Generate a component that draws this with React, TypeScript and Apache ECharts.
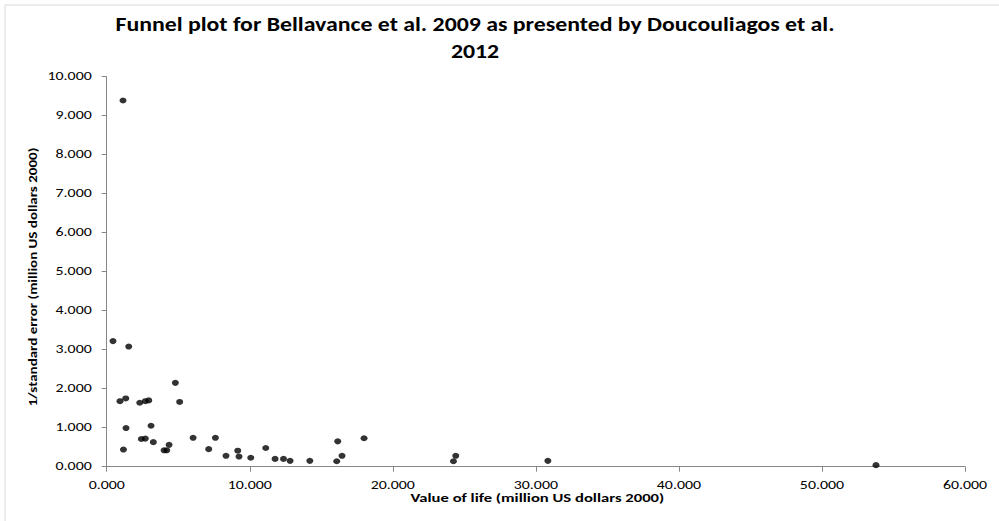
import React, { useEffect, useRef } from "react";
import * as echarts from "echarts";

const titleLines = ["Funnel plot for Bellavance et al. 2009 as presented by Doucouliagos et al.", "2012"];
const xAxisTitle = "Value of life (million US dollars 2000)";
const yAxisTitle = "1/standard error (million US dollars 2000)";

const xTicks = [0, 10, 20, 30, 40, 50, 60];
const yTicks = [0, 1, 2, 3, 4, 5, 6, 7, 8, 9, 10];

const valueOfLife = [
  0.44, 1.54, 4.8, 0.93, 1.33, 2.31, 2.7, 2.94, 5.1, 1.35, 1.17, 3.1, 2.42, 2.7, 3.26, 4.01, 4.2, 4.36,
  6.04, 7.13, 7.6, 8.34, 9.16, 9.25, 10.07, 11.12, 11.77, 12.36, 12.82, 14.2, 16.08, 16.15, 16.45, 17.99,
  24.24, 24.4, 30.84, 53.78, 1.14,
];
const inverseSE = [
  3.22, 3.08, 2.15, 1.68, 1.75, 1.64, 1.68, 1.7, 1.66, 0.99, 0.44, 1.05, 0.71, 0.72, 0.63, 0.42, 0.42, 0.56,
  0.74, 0.45, 0.74, 0.28, 0.41, 0.26, 0.23, 0.48, 0.2, 0.2, 0.15, 0.15, 0.14, 0.65, 0.28, 0.73,
  0.14, 0.28, 0.15, 0.04, 9.39,
];

const FAMILY = "Carlito, Lato, 'Liberation Sans', sans-serif";
const font = (size: number, bold: boolean) => `${bold ? "bold " : ""}${size}px ${FAMILY}`;

export default function App() {
  const ref = useRef<HTMLDivElement>(null);
  useEffect(() => {
    if (!ref.current) return;
    const chart = echarts.init(ref.current, null, { renderer: "svg" });
    const points = valueOfLife.map((x, i) => [x, inverseSE[i]]);
    const axisColor = "#868686";
    chart.setOption({
      animation: false,
      backgroundColor: "#ffffff",
      grid: { left: 106.7, right: 34, top: 76.7, bottom: 54.3, containLabel: false },
      xAxis: {
        type: "value",
        min: 0,
        max: 60,
        interval: 10,
        axisLine: { show: true, lineStyle: { color: axisColor, width: 1 } },
        axisTick: { show: true, inside: false, length: 5, lineStyle: { color: axisColor } },
        splitLine: { show: false },
        axisLabel: { show: false },
      },
      yAxis: {
        type: "value",
        min: 0,
        max: 10,
        interval: 1,
        axisLine: { show: true, lineStyle: { color: axisColor, width: 1 } },
        axisTick: { show: true, inside: false, length: 5, lineStyle: { color: axisColor } },
        splitLine: { show: false },
        axisLabel: { show: false },
      },
      series: [
        {
          type: "scatter",
          data: points,
          symbol: "circle",
          symbolSize: [7, 6],
          itemStyle: { color: "#000000" },
        },
      ],
    });

    const graphics: any[] = [
      {
        type: "rect",
        shape: { x: 5, y: 5, width: 1000, height: 520 },
        style: { fill: "none", stroke: "#d9d9d9", lineWidth: 1 },
        silent: true,
        z: -1,
      },
    ];
    const titleScale = 1.19;
    titleLines.forEach((line, i) => {
      graphics.push({
        type: "text",
        x: 475,
        y: 24 + i * 27,
        scaleX: titleScale,
        style: {
          text: line,
          font: font(20, true),
          fill: "#000000",
          textAlign: "center",
          textVerticalAlign: "middle",
        },
      });
    });
    const labelScale = 1.38;
    xTicks.forEach((v) => {
      const px = chart.convertToPixel({ xAxisIndex: 0 }, v) as number;
      graphics.push({
        type: "text",
        x: px,
        y: 485.3,
        scaleX: labelScale,
        style: {
          text: v.toFixed(3),
          font: font(11.5, false),
          fill: "#000000",
          textAlign: "center",
          textVerticalAlign: "middle",
        },
      });
    });
    yTicks.forEach((v) => {
      const py = chart.convertToPixel({ yAxisIndex: 0 }, v) as number;
      graphics.push({
        type: "text",
        x: 91.7,
        y: py,
        scaleX: labelScale,
        style: {
          text: v.toFixed(3),
          font: font(11.5, false),
          fill: "#000000",
          textAlign: "right",
          textVerticalAlign: "middle",
        },
      });
    });
    graphics.push({
      type: "text",
      x: 537.3,
      y: 498,
      scaleX: 1.29,
      style: {
        text: xAxisTitle,
        font: font(12.9, true),
        fill: "#000000",
        textAlign: "center",
        textVerticalAlign: "middle",
      },
    });
    graphics.push({
      type: "text",
      x: 33,
      y: 277,
      rotation: Math.PI / 2,
      scaleX: 1.25,
      style: {
        text: yAxisTitle,
        font: font(12, true),
        fill: "#000000",
        textAlign: "center",
        textVerticalAlign: "middle",
      },
    });
    chart.setOption({ graphic: graphics });
    return () => chart.dispose();
  }, []);
  return (
    <div
      ref={ref}
      style={{ position: "fixed", left: 0, top: 0, width: 999, height: 521 }}
    />
  );
}
